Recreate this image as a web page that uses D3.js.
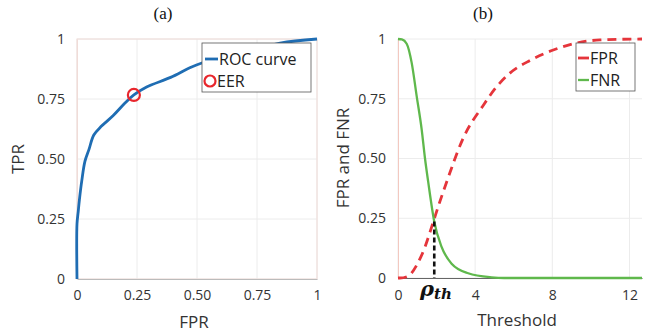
<!DOCTYPE html>
<html>
<head>
<meta charset="utf-8">
<script src="https://cdn.jsdelivr.net/npm/d3@7"></script>
<style>
  body { margin: 0; background: #fff; }
  svg { display: block; }
  .tick text { font-family: "Open Sans", sans-serif; font-size: 14px; fill: #333; }
</style>
</head>
<body>
<svg id="chart" width="656" height="335"></svg>
<script>
// ROC curve (a)
const rocFpr = [0, 0, 0.005, 0.01, 0.02, 0.033, 0.05, 0.07, 0.10, 0.15, 0.20, 0.237, 0.29, 0.39, 0.47, 0.52, 0.6, 0.7, 0.846, 1.0];
const rocTpr = [0, 0.23, 0.28, 0.33, 0.41, 0.49, 0.54, 0.60, 0.635, 0.68, 0.733, 0.767, 0.80, 0.84, 0.88, 0.90, 0.92, 0.945, 0.983, 1.0];
const eer = [0.237, 0.767];

// FPR / FNR vs threshold (b)
const fprThr = [0, 0.1, 0.53, 0.97, 1.40, 1.75, 2.09, 2.69, 3.12, 3.38, 4.4, 5.11, 5.80, 6.84, 8.05, 9.08, 10.47, 12.65];
const fprVal = [0, 0, 0.008, 0.054, 0.13, 0.215, 0.30, 0.44, 0.535, 0.585, 0.72, 0.80, 0.857, 0.91, 0.954, 0.98, 0.996, 1.0];
const fnrThr = [0, 0.2, 0.45, 0.71, 0.97, 1.23, 1.40, 1.57, 1.88, 2.26, 2.78, 3.64, 4.85, 5.5, 12.65];
const fnrVal = [1, 0.998, 0.98, 0.90, 0.76, 0.62, 0.50, 0.40, 0.236, 0.13, 0.06, 0.02, 0.003, 0, 0];
const rhoTh = 1.88, rhoY = 0.236;

const ticksA = [0, 0.25, 0.5, 0.75, 1];
const tickLabelsA = ["0", "0.25", "0.50", "0.75", "1"];
const ticksBx = [0, 4, 8, 12];

const svg = d3.select("#chart");
const sans = "Open Sans, sans-serif";

function fmt(v) { return tickLabelsA[ticksA.indexOf(v)]; }

// ---------- panel (a)
const xa = d3.scaleLinear().domain([0, 1]).range([77, 317]);
const ya = d3.scaleLinear().domain([0, 1]).range([279, 39]);
const ga = svg.append("g");

ga.append("g").selectAll("line").data(ticksA).enter().append("line")
  .attr("x1", d => xa(d)).attr("x2", d => xa(d)).attr("y1", ya(0)).attr("y2", ya(1))
  .attr("stroke", "#ececec");
ga.append("g").selectAll("line").data(ticksA).enter().append("line")
  .attr("x1", xa(0)).attr("x2", xa(1)).attr("y1", d => ya(d)).attr("y2", d => ya(d))
  .attr("stroke", "#ececec");
ga.append("rect").attr("x", xa(0)).attr("y", ya(1)).attr("width", xa(1) - xa(0)).attr("height", ya(0) - ya(1))
  .attr("fill", "none").attr("stroke", "#f0dcd8");

ga.append("g").attr("transform", `translate(0,${ya(0)})`)
  .call(d3.axisBottom(xa).tickValues(ticksA).tickFormat(fmt).tickSize(0).tickPadding(11))
  .call(g => g.select(".domain").attr("stroke", "#bbb"));
ga.append("g").attr("transform", `translate(${xa(0)},0)`)
  .call(d3.axisLeft(ya).tickValues(ticksA).tickFormat(fmt).tickSize(0).tickPadding(12))
  .call(g => g.select(".domain").attr("stroke", "#f0dcd8"));

ga.append("path").datum(rocFpr)
  .attr("d", d3.line().x((d, i) => xa(rocFpr[i])).y((d, i) => ya(rocTpr[i])).curve(d3.curveCatmullRom))
  .attr("fill", "none").attr("stroke", "#1f6db3").attr("stroke-width", 2.8);

// legend (a)
const la = ga.append("g");
la.append("rect").attr("x", 202).attr("y", 43).attr("width", 109).attr("height", 49)
  .attr("fill", "#fff").attr("stroke", "#555").attr("stroke-width", 0.8);
la.append("line").attr("x1", 205).attr("x2", 218).attr("y1", 59).attr("y2", 59)
  .attr("stroke", "#1f6db3").attr("stroke-width", 2.8);
la.append("text").attr("x", 219).attr("y", 65).text("ROC curve")
  .attr("font-family", sans).attr("font-size", 16).attr("fill", "#222");
la.append("circle").attr("cx", 210).attr("cy", 81).attr("r", 5.5)
  .attr("fill", "none").attr("stroke", "#e8262c").attr("stroke-width", 2.2);
la.append("text").attr("x", 217).attr("y", 87).text("EER")
  .attr("font-family", sans).attr("font-size", 16).attr("fill", "#222");

ga.append("circle").attr("cx", xa(eer[0])).attr("cy", ya(eer[1])).attr("r", 6)
  .attr("fill", "none").attr("stroke", "#e8262c").attr("stroke-width", 2.2);

ga.append("text").attr("x", 194).attr("y", 328).attr("text-anchor", "middle").text("FPR")
  .attr("font-family", sans).attr("font-size", 17).attr("fill", "#333");
ga.append("text").attr("transform", "translate(24,159) rotate(-90)").attr("text-anchor", "middle").text("TPR")
  .attr("font-family", sans).attr("font-size", 17).attr("fill", "#333");
ga.append("text").attr("x", 163).attr("y", 19).attr("text-anchor", "middle").text("(a)")
  .attr("font-family", "Liberation Serif, serif").attr("font-size", 17).attr("fill", "#111");

// ---------- panel (b)
const xb = d3.scaleLinear().domain([0, 12.65]).range([398, 642]);
const yb = d3.scaleLinear().domain([0, 1]).range([278, 39]);
const gb = svg.append("g");

gb.append("g").selectAll("line").data(ticksBx).enter().append("line")
  .attr("x1", d => xb(d)).attr("x2", d => xb(d)).attr("y1", yb(0)).attr("y2", yb(1))
  .attr("stroke", "#ececec");
gb.append("g").selectAll("line").data(ticksA).enter().append("line")
  .attr("x1", xb(0)).attr("x2", xb(12.65)).attr("y1", d => yb(d)).attr("y2", d => yb(d))
  .attr("stroke", "#ececec");

gb.append("g").attr("transform", `translate(0,${yb(0)})`)
  .call(d3.axisBottom(xb).tickValues(ticksBx).tickSize(0).tickPadding(12))
  .call(g => g.select(".domain").attr("stroke", "#666"));
gb.append("g").attr("transform", `translate(${xb(0)},0)`)
  .call(d3.axisLeft(yb).tickValues(ticksA).tickFormat(fmt).tickSize(0).tickPadding(12))
  .call(g => g.select(".domain").attr("stroke", "#f3c8c0"));

gb.append("path").datum(fprThr)
  .attr("d", d3.line().x((d, i) => xb(fprThr[i])).y((d, i) => yb(fprVal[i])).curve(d3.curveMonotoneX))
  .attr("fill", "none").attr("stroke", "#e5353b").attr("stroke-width", 2.8).attr("stroke-dasharray", "9,6");
gb.append("path").datum(fnrThr)
  .attr("d", d3.line().x((d, i) => xb(fnrThr[i])).y((d, i) => yb(fnrVal[i])).curve(d3.curveMonotoneX))
  .attr("fill", "none").attr("stroke", "#5fb84c").attr("stroke-width", 2.3);

gb.append("line").attr("x1", xb(rhoTh)).attr("x2", xb(rhoTh)).attr("y1", yb(rhoY)).attr("y2", yb(0))
  .attr("stroke", "#111").attr("stroke-width", 2.6).attr("stroke-dasharray", "5,3");

const rho = gb.append("text").attr("x", 436).attr("y", 296).attr("text-anchor", "middle")
  .attr("font-family", "DejaVu Serif, serif").attr("font-weight", "bold").attr("font-style", "italic").attr("fill", "#111");
rho.append("tspan").attr("font-size", 21).text("ρ");
rho.append("tspan").attr("font-size", 15).attr("dy", 3).text("th");

// legend (b)
const lb = gb.append("g");
lb.append("rect").attr("x", 576).attr("y", 43).attr("width", 59).attr("height", 48)
  .attr("fill", "#fff").attr("stroke", "#555").attr("stroke-width", 0.8);
lb.append("line").attr("x1", 578).attr("x2", 589).attr("y1", 58).attr("y2", 58)
  .attr("stroke", "#e5353b").attr("stroke-width", 2.8);
lb.append("text").attr("x", 590).attr("y", 64).text("FPR")
  .attr("font-family", sans).attr("font-size", 16).attr("fill", "#222");
lb.append("line").attr("x1", 578).attr("x2", 589).attr("y1", 80).attr("y2", 80)
  .attr("stroke", "#5fb84c").attr("stroke-width", 2.3);
lb.append("text").attr("x", 590).attr("y", 86).text("FNR")
  .attr("font-family", sans).attr("font-size", 16).attr("fill", "#222");

gb.append("text").attr("x", 517).attr("y", 326).attr("text-anchor", "middle").text("Threshold")
  .attr("font-family", sans).attr("font-size", 17).attr("fill", "#333");
gb.append("text").attr("transform", "translate(349,158) rotate(-90)").attr("text-anchor", "middle").text("FPR and FNR")
  .attr("font-family", sans).attr("font-size", 17).attr("fill", "#333");
gb.append("text").attr("x", 483).attr("y", 19).attr("text-anchor", "middle").text("(b)")
  .attr("font-family", "Liberation Serif, serif").attr("font-size", 17).attr("fill", "#111");
</script>
</body>
</html>
